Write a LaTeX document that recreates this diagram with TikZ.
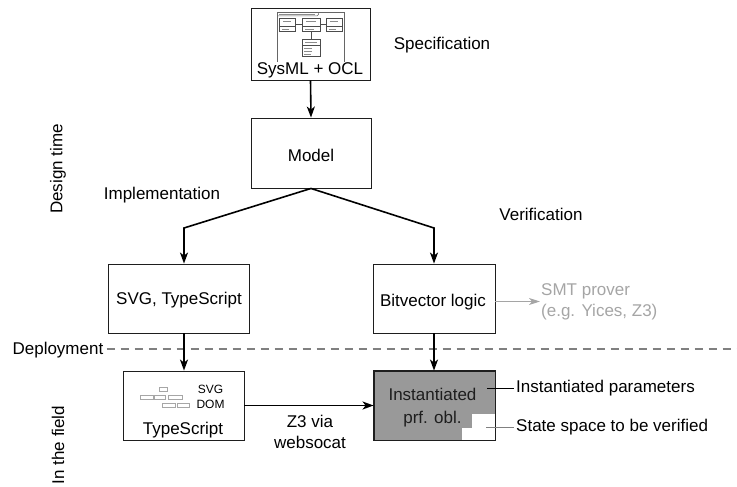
\documentclass[tikz,border=0pt]{standalone}
\usepackage{fontspec}
\setmainfont{Liberation Sans}
\usetikzlibrary{arrows.meta}
\definecolor{instgray}{RGB}{153,153,153}
\definecolor{softgray}{RGB}{165,165,165}
\definecolor{dashgray}{RGB}{128,128,128}
\definecolor{inkgray}{RGB}{30,30,30}
\begin{document}
\begin{tikzpicture}[x=1bp,y=-1bp,
  font=\fontsize{17bp}{21bp}\selectfont,
  box/.style={draw=inkgray, line width=0.9bp, inner sep=0pt, align=center},
  lbl/.style={inner sep=0pt, align=center},
  arr/.style={draw=black, line width=1.6bp, -{Stealth[length=11bp,width=8bp,inset=3bp]}},
  grayarr/.style={draw=softgray, line width=1.1bp, -{Stealth[length=11bp,width=7bp,inset=3bp]}},
  blk/.style={draw=black!70, line width=0.4bp, fill=white},
  txtline/.style={draw=black!45, line width=0.5bp},
  domblk/.style={draw=black!35, line width=0.35bp},
  smallfont/.style={font=\fontsize{12bp}{15bp}\selectfont}]
\useasboundingbox (0,0) rectangle (737,487);

% deployment boundary (drawn first so the arrows cross over it)
\node[lbl, anchor=east] (dep) at (103.5,350) {Deployment};
\coordinate (dend) at (737,349);
\draw[draw=dashgray, line width=2bp, dash pattern=on 8bp off 6bp]
  ([xshift=3bp]dep.east |- dend) -- (dend);

% phase labels
\node[lbl, rotate=90] (design) at (58,169) {Design time};
\node[lbl, rotate=90] (field) at (58,445) {In the field};

% specification box with its miniature SysML block diagram
\node[box, minimum width=119bp, minimum height=72bp] (sysml) at (310.5,44) {};
\node[lbl] (sysmltxt) at (310,70.5) {SysML + OCL};
\draw[draw=black!60, line width=0.5bp] (277,62) -- (277,12.7) -- (344,12.7) -- (344,62);
\draw[draw=black!60, line width=0.5bp] (277,16) -- (317,16) -- (318.5,14.5) -- (318.5,12.7);
\draw[txtline, line width=0.3bp] (279,14.4) -- (315,14.4);
\draw[draw=black!70, line width=0.5bp] (295,24) -- (302.3,24) (320,24) -- (325.7,24) (311,31.7) -- (311,39.3);
\foreach \xa/\xb in {279.3/295, 302.3/320, 325.7/342.3}{
  \draw[blk] (\xa,18.3) rectangle (\xb,31.7);
  \draw[draw=black!70, line width=0.3bp] (\xa,26.2) -- (\xb,26.2);
  \draw[txtline, line width=0.3bp] (\xa+4,21.5) -- (\xb-4,21.5) (\xa+3,29) -- (\xb-6,29);
}
\draw[blk] (302.3,39.3) rectangle (320,56.7);
\draw[draw=black!70, line width=0.3bp] (302.3,45.5) -- (320,45.5);
\draw[txtline, line width=0.3bp] (305,42.2) -- (317,42.2) (304,48.5) -- (312,48.5)
  (304,51.5) -- (312,51.5) (304,54.3) -- (311,54.3);

% model and the two branches
\node[box, minimum width=120bp, minimum height=70bp] (model) at (311,153) {};
\node[lbl] (modeltxt) at (311,155) {Model};
\node[lbl] (impl) at (162,195) {Implementation};
\node[lbl] (verif) at (541,214) {Verification};
\node[lbl] (spec) at (442,45) {Specification};

\node[box, minimum width=141bp, minimum height=69bp] (svg) at (178.5,298.5) {};
\node[lbl] (svgtxt) at (179,300) {SVG, TypeScript};
\node[box, minimum width=122bp, minimum height=69bp] (bv) at (434,298.5) {};
\node[lbl] (bvtxt) at (433,302) {Bitvector logic};

\node[lbl, align=left, anchor=west, text=softgray] (smt) at (541,301.5) {SMT prover\\(e.g. Yices, Z3)};

% field boxes
\node[box, minimum width=121bp, minimum height=69bp] (ts) at (183.5,405.5) {};
\node[lbl] (tstxt) at (183,430) {TypeScript};
\node[lbl, smallfont] (svgdom) at (210.5,397) {SVG\\DOM};
\foreach \xa/\xb/\ya in {159/167/387, 140/153/395, 154/165/395, 168/182/395, 162/175/403, 177/189/403}{
  \draw[domblk] (\xa,\ya) rectangle (\xb,\ya+4);
}

\node[box, fill=instgray, minimum width=121bp, minimum height=69bp] (inst) at (434.5,405.5) {};
\fill[white] (472,414) -- (495,414) -- (495,440) -- (462,440) -- (462,428) -- (472,428) -- cycle;
\draw[draw=inkgray, line width=0.9bp] (inst.north west) rectangle (inst.south east);
\node[lbl, font=\fontsize{17bp}{23bp}\selectfont, text=inkgray] (insttxt) at (432.5,408) {Instantiated\\prf. obl.};

\node[lbl, anchor=west] (params) at (516,388) {Instantiated parameters};
\node[lbl, anchor=west] (space) at (516,427.5) {State space to be verified};
\coordinate (pin) at (487,388);
\coordinate (sin) at (486,427.5);
\draw[draw=black, line width=1bp] (pin) -- ([xshift=-2bp]params.west);
\draw[draw=dashgray, line width=1bp] (sin) -- ([xshift=-2bp]space.west);

% connectors
\coordinate (jl) at (184,228);
\coordinate (jr) at (434,228);
\draw[arr] (sysml.south) -- (model.north);
\draw[arr] (model.south) -- (jl) -- (jl |- svg.north);
\draw[arr] (model.south) -- (jr) -- (jr |- bv.north);
\draw[arr] (jl |- svg.south) -- (jl |- ts.north);
\draw[arr] (jr |- bv.south) -- (jr |- inst.north);
\draw[arr] (ts.east) -- (inst.west);
\node[lbl] (z3) at (310,432) {Z3 via\\websocat};
\draw[grayarr] (bv.east |- smt.west) -- ([xshift=-1bp]smt.west);
\end{tikzpicture}
\end{document}
